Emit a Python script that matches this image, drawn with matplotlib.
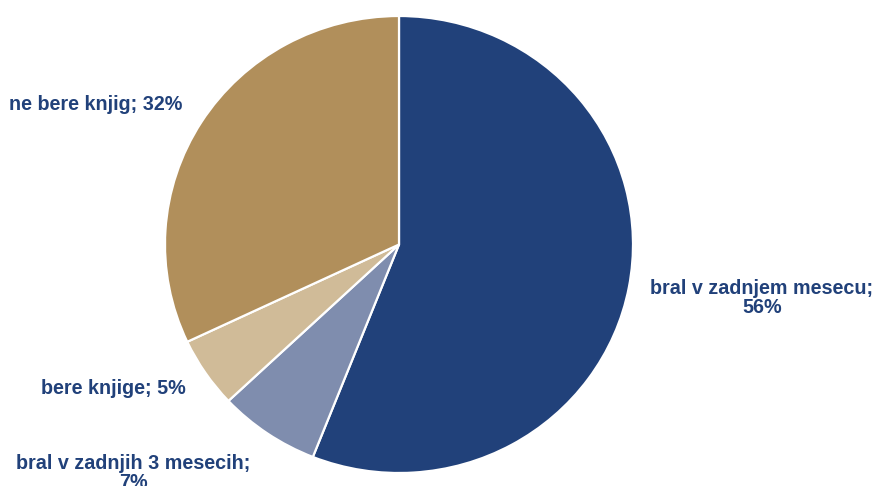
import matplotlib
matplotlib.use("Agg")
import matplotlib.pyplot as plt

# share of respondents by reading habit
categories = ["bral v zadnjem mesecu", "bral v zadnjih 3 mesecih", "bere knjige", "ne bere knjig"]
shares = [56, 7, 5, 32]
colors = ["#21417A", "#7F8DAE", "#D0BB98", "#B18F5B"]
text_color = "#21417A"

# label anchors in figure pixels (x, y from top), plus whether the value goes on a new line
label_pos = [(762, 298, True), (133, 473, True), (113, 389, False), (96, 104, False)]

W, H = 877, 486
fig = plt.figure(figsize=(W / 100, H / 100), dpi=100)

# pie box in pixels: left, top, right, bottom
left, top, right, bottom = 165, 16, 633, 473
ax = fig.add_axes([left / W, (H - bottom) / H, (right - left) / W, (bottom - top) / H])
ax.pie(shares, colors=colors, startangle=90, counterclock=False,
       wedgeprops=dict(edgecolor="white", linewidth=1.6))
ax.set_aspect("auto")
ax.set_xlim(-1, 1)
ax.set_ylim(-1, 1)
ax.axis("off")

for name, val, (px, py, wrap) in zip(categories, shares, label_pos):
    sep = ";\n" if wrap else "; "
    fig.text(px / W, 1 - py / H, f"{name}{sep}{val}%", ha="center", va="center",
             fontsize=14.2, fontweight="bold", color=text_color,
             family="Liberation Sans", linespacing=1.05)

fig.savefig("out.png", dpi=100)
